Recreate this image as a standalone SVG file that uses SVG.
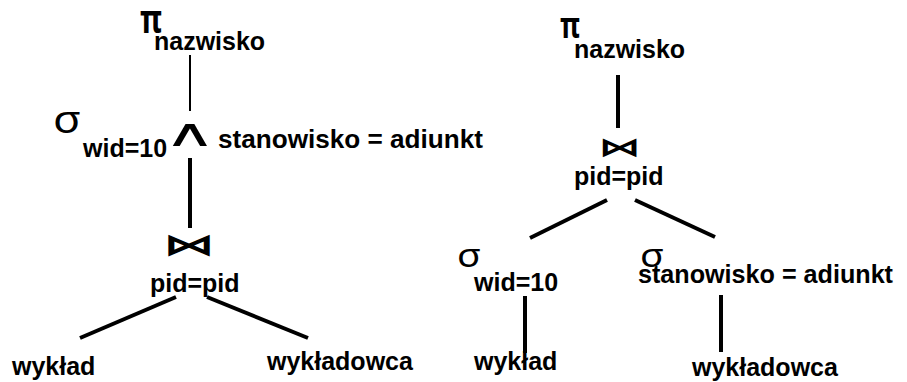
<svg xmlns="http://www.w3.org/2000/svg" width="907" height="382" viewBox="0 0 907 382">
<style>
.t{font-family:"Liberation Sans",Arial,sans-serif;font-weight:bold;font-size:25px;fill:#000}
.g{font-family:"Noto Sans","DejaVu Sans",sans-serif;fill:#000}
.p{font-family:"Noto Sans","DejaVu Sans",sans-serif;font-weight:bold;fill:#000}
.s{font-family:"DejaVu Sans",sans-serif;fill:#000}
.b{font-family:"DejaVu Sans",sans-serif;font-weight:bold;fill:#000}
.c{stroke:#000;stroke-width:4;fill:none}
</style>
<rect width="907" height="382" fill="#fff"/>
<g id="connectors">
<line class="c" x1="190" y1="55" x2="190" y2="111" style="stroke-width:2"/>
<line class="c" x1="190" y1="158" x2="190" y2="228"/>
<line class="c" x1="176" y1="297" x2="80" y2="338"/>
<line class="c" x1="207" y1="297" x2="308" y2="338"/>
<line class="c" x1="618" y1="75" x2="618" y2="128"/>
<line class="c" x1="607" y1="200" x2="530" y2="238"/>
<line class="c" x1="635" y1="200" x2="715" y2="237"/>
<line class="c" x1="525" y1="296" x2="525" y2="353"/>
<line class="c" x1="721" y1="295" x2="721" y2="352"/>
</g>
<g id="left-projection">
<text class="p" x="140" y="33" font-size="40" textLength="22" lengthAdjust="spacingAndGlyphs">π</text>
<text class="t" x="154" y="50">nazwisko</text>
</g>
<g id="left-selection">
<text class="g" x="53" y="133" font-size="38" textLength="28" lengthAdjust="spacingAndGlyphs">σ</text>
<text class="t" x="83" y="157">wid=10</text>
<text class="s" transform="translate(190,146) scale(1.9,1)" text-anchor="middle" font-size="38">∧</text>
<text class="t" x="218" y="148" textLength="265" lengthAdjust="spacingAndGlyphs">stanowisko = adiunkt</text>
</g>
<g id="left-join">
<text class="b" x="163" y="255" font-size="30" textLength="52" lengthAdjust="spacingAndGlyphs">⋈</text>
<text class="t" x="150" y="292">pid=pid</text>
</g>
<g id="left-wyklad"><text class="t" x="12" y="375">wykład</text></g>
<g id="left-wykladowca"><text class="t" x="267" y="370">wykładowca</text></g>
<g id="right-projection">
<text class="p" x="560" y="38" font-size="36" textLength="20" lengthAdjust="spacingAndGlyphs">π</text>
<text class="t" x="574" y="58">nazwisko</text>
</g>
<g id="right-join">
<text class="b" x="598" y="156" font-size="26" textLength="43" lengthAdjust="spacingAndGlyphs">⋈</text>
<text class="t" x="574" y="185">pid=pid</text>
</g>
<g id="right-selection-wid">
<text class="g" x="457" y="267" font-size="32" textLength="24" lengthAdjust="spacingAndGlyphs">σ</text>
<text class="t" x="474" y="291">wid=10</text>
</g>
<g id="right-selection-stanowisko">
<text class="g" x="640" y="267" font-size="32" textLength="24" lengthAdjust="spacingAndGlyphs">σ</text>
<text class="t" x="638" y="283" textLength="255" lengthAdjust="spacingAndGlyphs">stanowisko = adiunkt</text>
</g>
<g id="right-wyklad"><text class="t" x="474" y="370">wykład</text></g>
<g id="right-wykladowca"><text class="t" x="692" y="376">wykładowca</text></g>
</svg>
